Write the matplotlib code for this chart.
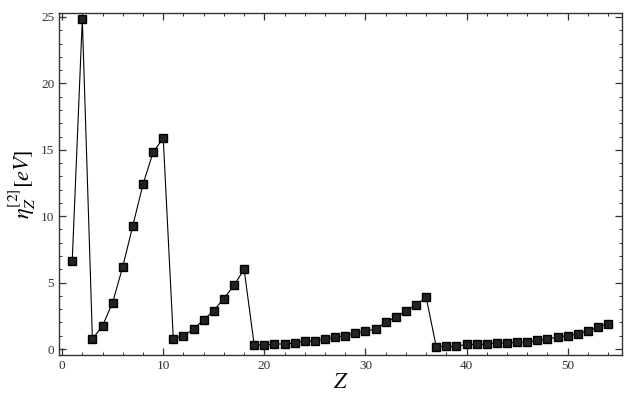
import numpy as np
import matplotlib
matplotlib.use('Agg')
import matplotlib.pyplot as plt
from matplotlib.ticker import MultipleLocator

plt.rcParams['mathtext.fontset'] = 'stix'

# atomic number Z and eta_Z^[2] in eV
Z = np.arange(1, 55)
eta = [6.6, 24.85, 0.75, 1.75, 3.5, 6.2, 9.3, 12.4, 14.8, 15.9,
       0.75, 1.0, 1.5, 2.2, 2.9, 3.8, 4.8, 6.0,
       0.3, 0.3, 0.38, 0.38, 0.45, 0.6, 0.6, 0.75, 0.9, 1.0, 1.2,
       1.35, 1.5, 2.0, 2.4, 2.9, 3.3, 3.9,
       0.18, 0.2, 0.2, 0.35, 0.35, 0.35, 0.45, 0.45, 0.5, 0.5, 0.65,
       0.75, 0.9, 1.0, 1.15, 1.35, 1.65, 1.9]

fig = plt.figure(figsize=(6.35, 4.0), dpi=100)
ax = fig.add_axes([0.093, 0.1125, 0.887, 0.855])

ax.plot(Z, eta, color='black', linewidth=0.8, marker='s', markersize=6,
        markerfacecolor='#222222', markeredgecolor='black')

ax.set_xlim(-0.3, 55.4)
ax.set_ylim(-0.45, 25.3)

ax.xaxis.set_major_locator(MultipleLocator(10))
ax.xaxis.set_minor_locator(MultipleLocator(2))
ax.yaxis.set_major_locator(MultipleLocator(5))
ax.yaxis.set_minor_locator(MultipleLocator(1))
ax.tick_params(which='both', direction='in', top=True, right=True,
               labelsize=9.5, colors='#333333')
ax.tick_params(which='major', length=5, width=0.9)
ax.tick_params(which='minor', length=2.5, width=0.7)
for lab in ax.get_xticklabels() + ax.get_yticklabels():
    lab.set_family('Liberation Serif')

for s in ax.spines.values():
    s.set_linewidth(1.0)
    s.set_color('#333333')

ax.set_xlabel(r'$Z$', fontsize=16, labelpad=0)
ax.set_ylabel(r'$\eta_Z^{[2]}[eV]$', fontsize=16, labelpad=2)

fig.savefig('out.png', dpi=100)
